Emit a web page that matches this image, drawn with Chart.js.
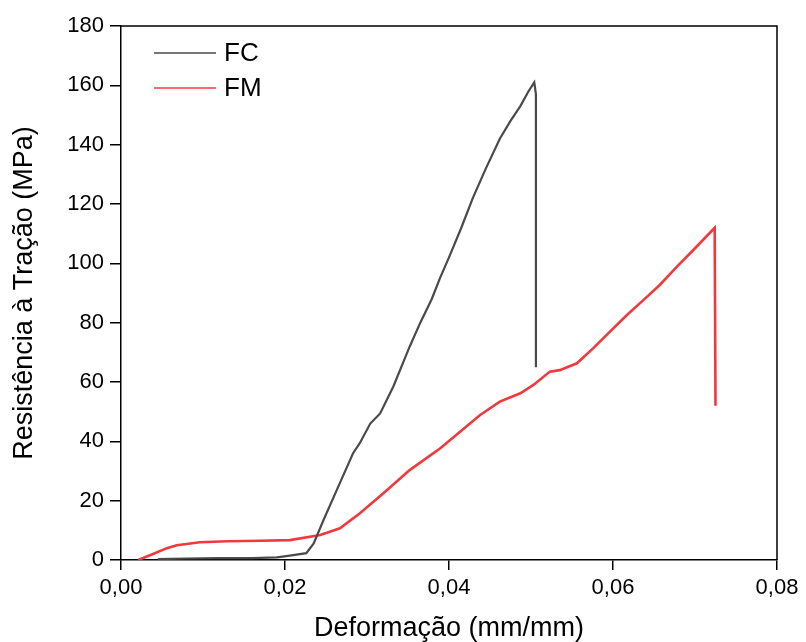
<!DOCTYPE html>
<html>
<head>
<meta charset="utf-8">
<script src="https://cdn.jsdelivr.net/npm/chart.js@4.4.0/dist/chart.umd.min.js"></script>
<style>
html,body{margin:0;padding:0;background:#fff;}
canvas{display:block;}
</style>
</head>
<body>
<canvas id="c" width="806" height="642"></canvas>
<script>
// Data
const seriesNames = ['FC', 'FM'];
const fcStrain = [0.0045,0.008,0.012,0.016,0.019,0.0206,0.0226,0.0235,0.0247,0.0267,0.0283,0.0291,0.0304,0.0316,0.0332,0.0352,0.0365,0.0379,0.0389,0.0400,0.0415,0.0429,0.0445,0.0462,0.0475,0.0487,0.0497,0.0504,0.0506,0.0506];
const fcStress = [0.3,0.5,0.6,0.6,0.9,1.5,2.3,5.6,13.5,26,36,39.3,46,49.4,58.4,71.9,80,88,95,102,112,122,132,142,148,153,158,161,157,65];
const fmStrain = [0.0021,0.0039,0.0056,0.0068,0.008,0.0096,0.013,0.017,0.0206,0.0243,0.0267,0.0291,0.032,0.0352,0.0389,0.0438,0.0462,0.0487,0.0503,0.0523,0.0535,0.0556,0.0576,0.0596,0.0617,0.0637,0.0657,0.0678,0.0698,0.0724,0.0725];
const fmStress = [0,2,4,5,5.4,6,6.3,6.5,6.7,8.4,10.7,15.7,22.5,30.3,37.6,48.9,53.4,56.2,59,63.5,64,66.3,71.4,76.9,82.6,87.6,92.7,98.9,104.5,112,52];
const xTickLabels = ['0,00','0,02','0,04','0,06','0,08'];
const yTickLabels = ['0','20','40','60','80','100','120','140','160','180'];

const toPts = (xs, ys) => xs.map((x, i) => ({x: x, y: ys[i]}));

const frame = {
  id: 'frame',
  afterDatasetsDraw(chart) {
    const {ctx, chartArea: a} = chart;
    ctx.save();
    ctx.strokeStyle = '#000';
    ctx.lineWidth = 1.5;
    ctx.beginPath();
    ctx.moveTo(a.left, a.top);
    ctx.lineTo(a.right, a.top);
    ctx.lineTo(a.right, a.bottom);
    ctx.stroke();
    ctx.restore();
  }
};

const legendIn = {
  id: 'legendIn',
  afterDraw(chart) {
    const {ctx, chartArea: a} = chart;
    ctx.save();
    ctx.font = '26px "Liberation Sans", Arial, sans-serif';
    ctx.textBaseline = 'middle';
    ctx.fillStyle = '#000';
    chart.data.datasets.forEach((ds, i) => {
      const y = a.top + 27 + i * 35;
      ctx.strokeStyle = ds.borderColor;
      ctx.lineWidth = 1.5;
      ctx.beginPath();
      ctx.moveTo(a.left + 33, y);
      ctx.lineTo(a.left + 95, y);
      ctx.stroke();
      ctx.fillText(ds.label, a.left + 103, y + 1);
    });
    ctx.restore();
  }
};

new Chart(document.getElementById('c'), {
  type: 'line',
  data: {
    datasets: [
      {label: seriesNames[0], data: toPts(fcStrain, fcStress), borderColor: '#4a4a4a', borderWidth: 2.2, pointRadius: 0, tension: 0},
      {label: seriesNames[1], data: toPts(fmStrain, fmStress), borderColor: '#f0383d', borderWidth: 2.6, pointRadius: 0, tension: 0}
    ]
  },
  options: {
    responsive: false,
    animation: false,
    devicePixelRatio: 1,
    layout: {padding: {top: 26, right: 29, left: 0, bottom: 0}},
    plugins: {legend: {display: false}, tooltip: {enabled: false}},
    scales: {
      x: {
        type: 'linear', min: 0, max: 0.08,
        afterFit(s) { s.height = 82; },
        afterBuildTicks(s) { s.ticks = xTickLabels.map((t, i) => ({value: i * 0.02})); },
        ticks: {
          color: '#000', padding: 5, maxRotation: 0,
          font: {family: '"Liberation Sans", Arial, sans-serif', size: 22},
          callback: (v, i) => xTickLabels[i]
        },
        grid: {drawOnChartArea: false, drawTicks: true, tickLength: 10, color: '#000', lineWidth: 1.5},
        border: {color: '#000', width: 1.5},
        title: {display: true, text: 'Deformação (mm/mm)', color: '#000',
          font: {family: '"Liberation Sans", Arial, sans-serif', size: 27, lineHeight: 1}, padding: {top: 0, bottom: 0}}
      },
      y: {
        type: 'linear', min: 0, max: 180,
        afterFit(s) { s.width = 121; },
        afterBuildTicks(s) { s.ticks = yTickLabels.map((t) => ({value: Number(t)})); },
        ticks: {
          color: '#000', padding: 6,
          font: {family: '"Liberation Sans", Arial, sans-serif', size: 22},
          callback: (v, i) => yTickLabels[i]
        },
        grid: {drawOnChartArea: false, drawTicks: true, tickLength: 11, color: '#000', lineWidth: 1.5},
        border: {color: '#000', width: 1.5},
        title: {display: true, text: 'Resistência à Tração (MPa)', color: '#000',
          font: {family: '"Liberation Sans", Arial, sans-serif', size: 27, lineHeight: 1}, padding: {top: 11, bottom: 0}}
      }
    }
  },
  plugins: [frame, legendIn]
});
</script>
</body>
</html>
